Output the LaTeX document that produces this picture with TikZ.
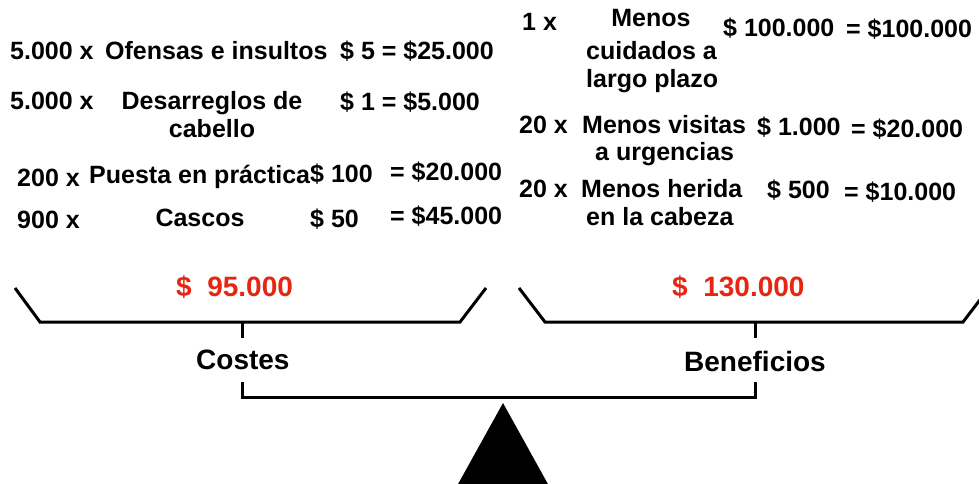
\documentclass[tikz,border=0pt]{standalone}
\usepackage{fontspec}
\setmainfont{Liberation Sans}
\definecolor{redv}{RGB}{228,38,18}
\begin{document}
\begin{tikzpicture}[x=1pt,y=-1pt,
  txt/.style={anchor=base west, inner sep=0pt, font=\fontsize{25}{30}\selectfont\bfseries},
  ctxt/.style={anchor=base, inner sep=0pt, font=\fontsize{25}{30}\selectfont\bfseries},
  big/.style={anchor=base west, inner sep=0pt, font=\fontsize{28}{33}\selectfont\bfseries},
  tot/.style={big, text=redv},
  beam/.style={line width=3pt, line join=miter}]
\useasboundingbox (0,0) rectangle (979,483);
\clip (0,0) rectangle (979,483);
% left column
\node[txt] (l1a) at (10,59) {5.000 x};
\node[txt] (l1b) at (105,59) {Ofensas e insultos};
\node[txt] (l1c) at (340,59) {\$ 5 = \$25.000};
\node[txt] (l2a) at (10,109) {5.000 x};
\node[ctxt] (l2b) at (212,109) {Desarreglos de};
\node[ctxt] (l2b2) at (212,137) {cabello};
\node[txt] (l2c) at (340,110) {\$ 1 = \$5.000};
\node[txt] (l3a) at (17,186) {200 x};
\node[txt] (l3b) at (89,183) {Puesta en práctica};
\node[txt] (l3c) at (310,182) {\$ 100};
\node[txt] (l3d) at (390,180) {= \$20.000};
\node[txt] (l4a) at (17,228) {900 x};
\node[ctxt] (l4b) at (200,226) {Cascos};
\node[txt] (l4c) at (310,227) {\$ 50};
\node[txt] (l4d) at (390,224) {= \$45.000};
% right column
\node[txt] (r1a) at (522,30) {1 x};
\node[ctxt] (r1b) at (651,26) {Menos};
\node[txt] (r1b2) at (586,59) {cuidados a};
\node[txt] (r1b3) at (586,87) {largo plazo};
\node[txt] (r1c) at (723,36) {\$ 100.000};
\node[txt] (r1d) at (846,37) {= \$100.000};
\node[txt] (r2a) at (519,133) {20 x};
\node[txt] (r2b) at (582,133) {Menos visitas};
\node[txt] (r2b2) at (595,160) {a urgencias};
\node[txt] (r2c) at (757,135) {\$ 1.000};
\node[txt] (r2d) at (851,137) {= \$20.000};
\node[txt] (r3a) at (519,197) {20 x};
\node[txt] (r3b) at (581,197) {Menos herida};
\node[txt] (r3b2) at (586,225) {en la cabeza};
\node[txt] (r3c) at (767,198) {\$ 500};
\node[txt] (r3d) at (844,200) {= \$10.000};
% totals
\node[tot] (tc) at (176,296) {\$\ \ 95.000};
\node[tot] (tb) at (672,296) {\$\ \ 130.000};
\node[big] (costes) at (196,369) {Costes};
\node[big] (benef) at (684,371) {Beneficios};
% pans
\coordinate (lp1) at (15,288); \coordinate (lp2) at (40,322);
\coordinate (lp3) at (460,322); \coordinate (lp4) at (486,288);
\coordinate (rp1) at (519,288); \coordinate (rp2) at (545,322);
\coordinate (rp3) at (963,322); \coordinate (rp4) at (989,288);
\draw[beam] (lp1) -- (lp2) -- (lp3) -- (lp4);
\draw[beam] (rp1) -- (rp2) -- (rp3) -- (rp4);
% ticks
\coordinate (lt1) at (242,322); \coordinate (lt2) at (242,338);
\coordinate (rt1) at (755,322); \coordinate (rt2) at (755,338);
\draw[beam] (lt1) -- (lt2);
\draw[beam] (rt1) -- (rt2);
% lower bar
\coordinate (b1) at (242,382); \coordinate (b2) at (242,397);
\coordinate (b3) at (755,397); \coordinate (b4) at (755,382);
\draw[beam] (b1) -- (b2) -- (b3) -- (b4);
% fulcrum
\coordinate (apex) at (503,403);
\fill (apex) -- (452,495) -- (554,495) -- cycle;
\end{tikzpicture}
\end{document}
